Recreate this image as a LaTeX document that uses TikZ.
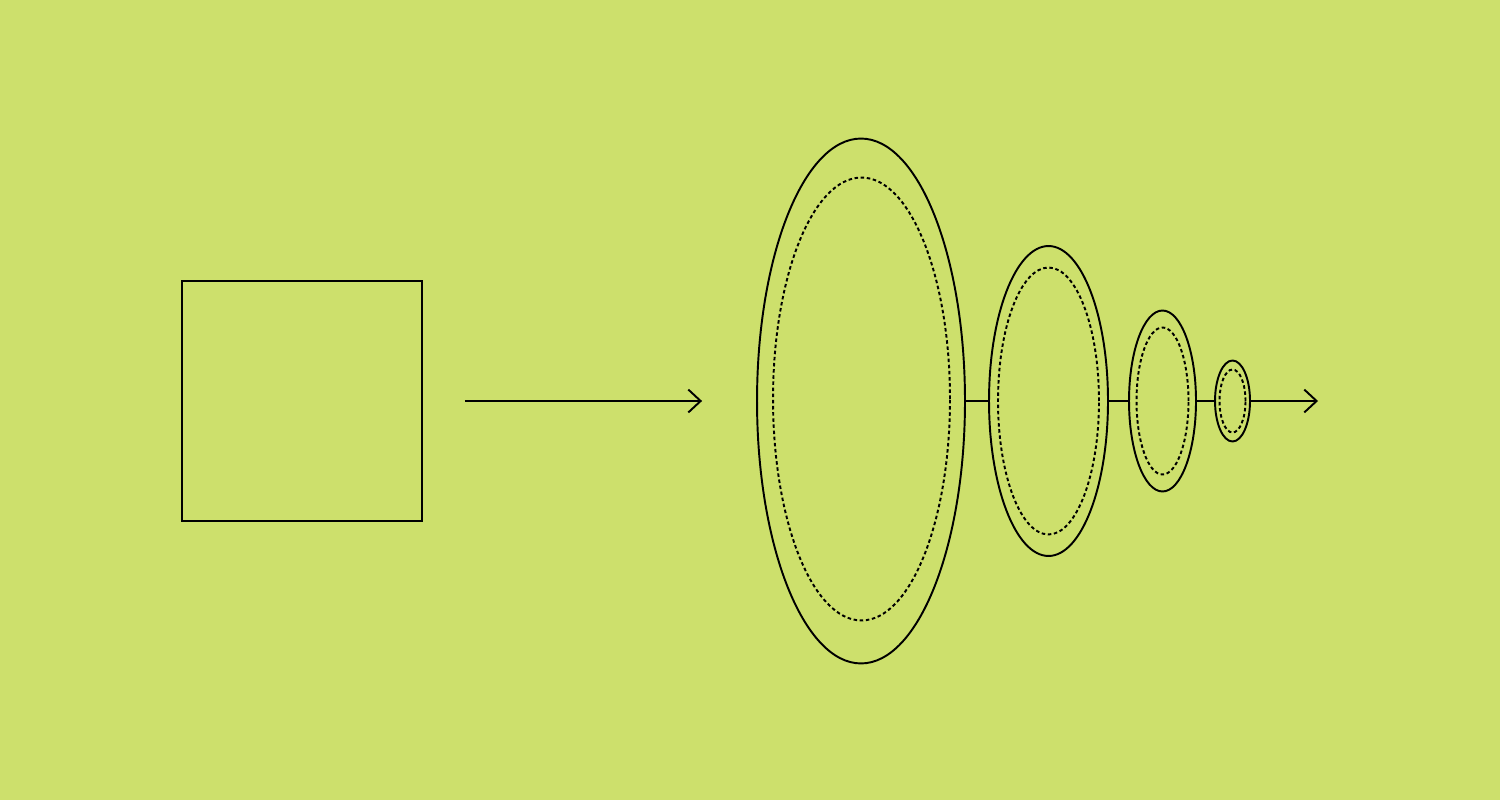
\documentclass[tikz,border=0pt]{standalone}
\usetikzlibrary{shapes.geometric,arrows.meta}
\definecolor{limebg}{RGB}{205,224,108}

\begin{document}
\begin{tikzpicture}[x=0.02cm,y=-0.02cm,line width=1.1pt,
		ring/.style={draw,ellipse,inner sep=0pt},
		dotring/.style={ring,dash pattern=on 2pt off 1.5pt},
		>={Straight Barb[length=7pt,width=13pt]}]
	\fill[limebg] (0,0) rectangle (1500,800);
	
	%SQUARE
	\node[draw,inner sep=0pt,minimum size=4.8cm] (sq) at (302,401) {};
	
	%RINGS
	\node[ring,minimum width=4.16cm,minimum height=10.5cm] (e1) at (861,401) {};
	\node[dotring,minimum width=3.54cm,minimum height=8.86cm] (d1) at (861.5,399) {};
	\node[ring,minimum width=2.38cm,minimum height=6.2cm] (e2) at (1048.5,401) {};
	\node[dotring,minimum width=2.02cm,minimum height=5.34cm] (d2) at (1048.5,401) {};
	\node[ring,minimum width=1.34cm,minimum height=3.62cm] (e3) at (1162.5,401) {};
	\node[dotring,minimum width=1.04cm,minimum height=2.94cm] (d3) at (1162.5,401) {};
	\node[ring,minimum width=0.7cm,minimum height=1.62cm] (e4) at (1232.5,401) {};
	\node[dotring,minimum width=0.52cm,minimum height=1.26cm] (d4) at (1232.5,401) {};
	
	%ARROWS
	\coordinate (out) at (1318,401);
	\draw[->] ([xshift=0.84cm]sq.east) -- ([xshift=-1.08cm]e1.west);
	\foreach \a/\b in {e1/e2,e2/e3,e3/e4}
		\draw (\a.east) -- (\b.west);
	\draw[->] (e4.east) -- (out);
	
\end{tikzpicture}
\end{document}
